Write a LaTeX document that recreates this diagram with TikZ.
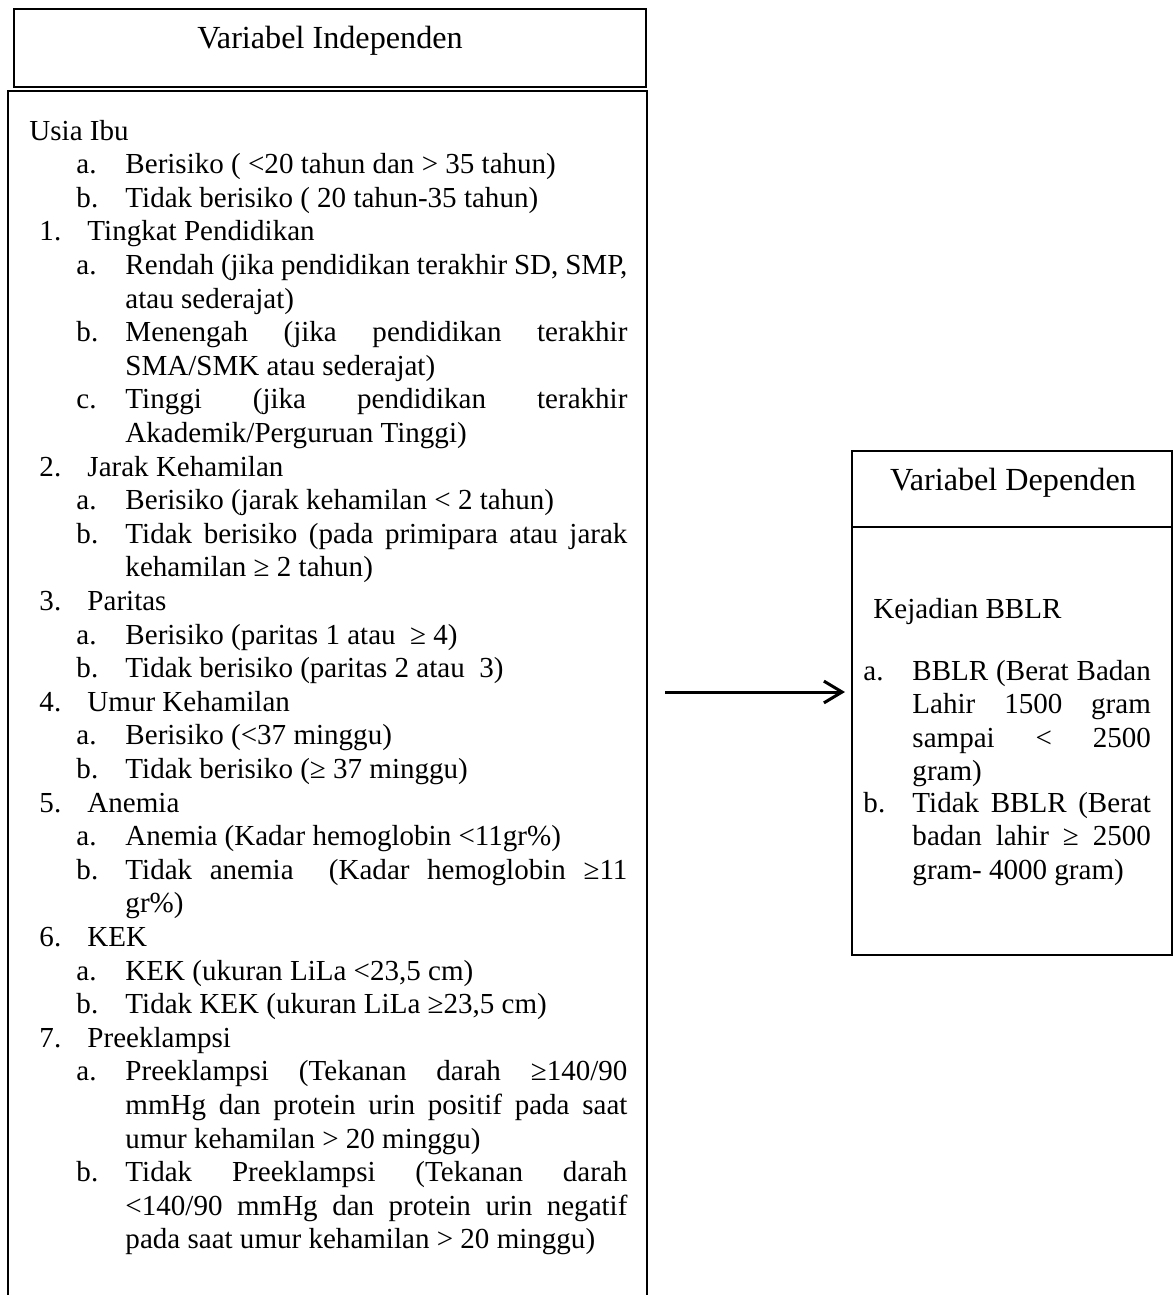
\documentclass[tikz,border=0pt]{standalone}
\usepackage{fontspec}
\setmainfont{Liberation Serif}
\usetikzlibrary{arrows.meta,calc}
\newcommand\ry[1]{140+33.6*#1}
\tikzset{
  box/.style={draw, line width=0.9pt},
  txt/.style={anchor=base west, inner sep=0pt, font=\fontsize{12}{13.9}\selectfont},
  sub/.style={txt, text width=207.4pt, align=justify},
  rsub/.style={txt, text width=98.5pt, align=justify},
  hdr/.style={anchor=base, inner sep=0pt, font=\fontsize{13.3}{15}\selectfont},
  arr/.style={line width=1.25pt, -{Straight Barb[length=7.5pt,width=9pt]}}
}
\begin{document}
\tolerance=10000
\hbadness=10000
\begin{tikzpicture}[x=0.4132pt, y=-0.4132pt]
\useasboundingbox (0,0) rectangle (1173,1295);
% boxes
\draw[box] (14,9) rectangle (646,87);
\draw[box] (8,1295) -- (8,91) -- (647,91) -- (647,1295);
\draw[box] (852,451) rectangle (1172,955);
\draw[box] (852,527) -- (1172,527);
\coordinate (L) at (647,692);
\coordinate (R) at (852,692);
\draw[arr] ($(L)+(18,0)$) -- ($(R)+(-7,0)$);
% headers
\node[hdr] (indhdr) at (330,48) {Variabel Independen};
\node[hdr] (dephdr) at (1013,490) {Variabel Dependen};
% left box
\node[txt] (usia) at (29,\ry{0}) {Usia Ibu};
\node[txt] (ua) at (76,\ry{1}) {a.};
\node[sub] (uat) at (125,\ry{1}) {Berisiko ( <20 tahun dan > 35 tahun)};
\node[txt] (ub) at (76,\ry{2}) {b.};
\node[sub] (ubt) at (125,\ry{2}) {Tidak berisiko ( 20 tahun-35 tahun)};
\node[txt] (n1) at (39,\ry{3}) {1.};
\node[txt] (n1t) at (87,\ry{3}) {Tingkat Pendidikan};
\node[txt] (pa) at (76,\ry{4}) {a.};
\node[sub] (pat) at (125,\ry{4}) {Rendah (jika pendidikan terakhir SD, SMP,\linebreak atau sederajat)};
\node[txt] (pb) at (76,\ry{6}) {b.};
\node[sub] (pbt) at (125,\ry{6}) {Menengah (jika pendidikan terakhir\linebreak SMA/SMK atau sederajat)};
\node[txt] (pc) at (76,\ry{8}) {c.};
\node[sub] (pct) at (125,\ry{8}) {Tinggi (jika pendidikan terakhir\linebreak Akademik/Perguruan Tinggi)};
\node[txt] (n2) at (39,\ry{10}) {2.};
\node[txt] (n2t) at (87,\ry{10}) {Jarak Kehamilan};
\node[txt] (ja) at (76,\ry{11}) {a.};
\node[sub] (jat) at (125,\ry{11}) {Berisiko (jarak kehamilan < 2 tahun)};
\node[txt] (jb) at (76,\ry{12}) {b.};
\node[sub] (jbt) at (125,\ry{12}) {Tidak berisiko (pada primipara atau jarak\linebreak kehamilan ≥ 2 tahun)};
\node[txt] (n3) at (39,\ry{14}) {3.};
\node[txt] (n3t) at (87,\ry{14}) {Paritas};
\node[txt] (ra1) at (76,\ry{15}) {a.};
\node[sub] (ra1t) at (125,\ry{15}) {Berisiko (paritas 1 atau \ ≥ 4)};
\node[txt] (rb1) at (76,\ry{16}) {b.};
\node[sub] (rb1t) at (125,\ry{16}) {Tidak berisiko (paritas 2 atau \ 3)};
\node[txt] (n4) at (39,\ry{17}) {4.};
\node[txt] (n4t) at (87,\ry{17}) {Umur Kehamilan};
\node[txt] (ka) at (76,\ry{18}) {a.};
\node[sub] (kat) at (125,\ry{18}) {Berisiko (<37 minggu)};
\node[txt] (kb) at (76,\ry{19}) {b.};
\node[sub] (kbt) at (125,\ry{19}) {Tidak berisiko (≥ 37 minggu)};
\node[txt] (n5) at (39,\ry{20}) {5.};
\node[txt] (n5t) at (87,\ry{20}) {Anemia};
\node[txt] (aa) at (76,\ry{21}) {a.};
\node[sub] (aat) at (125,\ry{21}) {Anemia (Kadar hemoglobin <11gr\%)};
\node[txt] (ab) at (76,\ry{22}) {b.};
\node[sub] (abt) at (125,\ry{22}) {Tidak anemia \ (Kadar hemoglobin ≥11\linebreak gr\%)};
\node[txt] (n6) at (39,\ry{24}) {6.};
\node[txt] (n6t) at (87,\ry{24}) {KEK};
\node[txt] (ea) at (76,\ry{25}) {a.};
\node[sub] (eat) at (125,\ry{25}) {KEK (ukuran LiLa <23,5 cm)};
\node[txt] (eb) at (76,\ry{26}) {b.};
\node[sub] (ebt) at (125,\ry{26}) {Tidak KEK (ukuran LiLa ≥23,5 cm)};
\node[txt] (n7) at (39,\ry{27}) {7.};
\node[txt] (n7t) at (87,\ry{27}) {Preeklampsi};
\node[txt] (pra) at (76,\ry{28}) {a.};
\node[sub] (prat) at (125,\ry{28}) {Preeklampsi (Tekanan darah ≥140/90\linebreak mmHg dan protein urin positif pada saat\linebreak umur kehamilan > 20 minggu)};
\node[txt] (prb) at (76,\ry{31}) {b.};
\node[sub] (prbt) at (125,\ry{31}) {Tidak Preeklampsi (Tekanan darah\linebreak <140/90 mmHg dan protein urin negatif\linebreak pada saat umur kehamilan > 20 minggu)};
% right box
\node[txt] (kej) at (873,618) {Kejadian BBLR};
\node[txt] (da) at (863,680) {a.};
\node[rsub] (dat) at (912,680) {BBLR (Berat Badan\linebreak Lahir 1500 gram\linebreak sampai < 2500\linebreak gram)};
\node[txt] (db) at (863,812) {b.};
\node[rsub] (dbt) at (912,812) {Tidak BBLR (Berat\linebreak badan lahir ≥ 2500\linebreak gram- 4000 gram)};
\end{tikzpicture}
\end{document}
